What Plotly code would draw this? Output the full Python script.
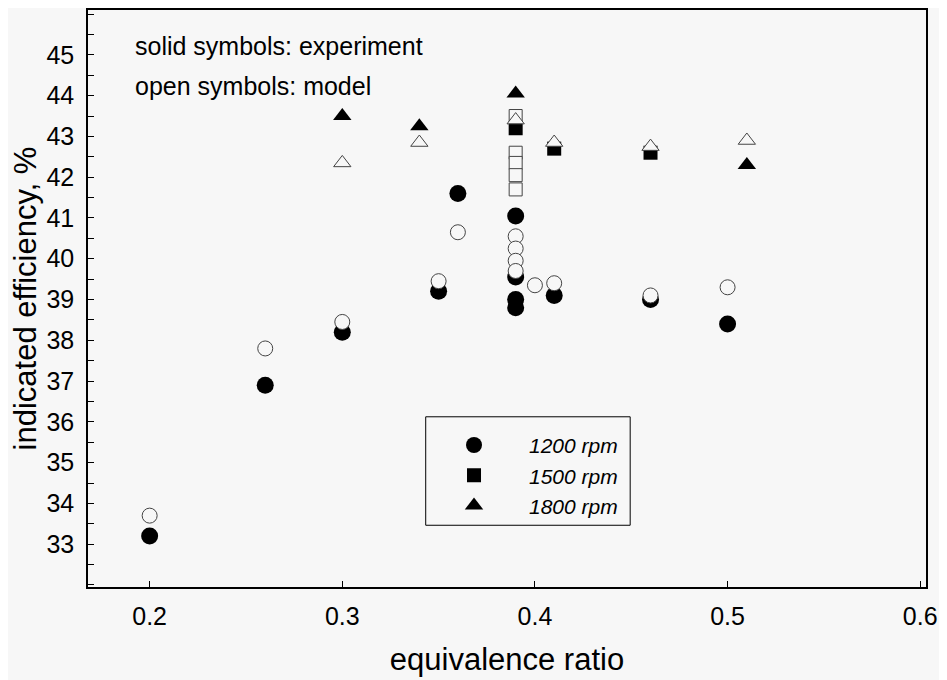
import plotly.graph_objects as go

# experiment (solid symbols)
exp_1200_x = [0.20, 0.26, 0.30, 0.35, 0.36, 0.39, 0.39, 0.39, 0.39, 0.41, 0.46, 0.50]
exp_1200_y = [33.2, 36.9, 38.2, 39.2, 41.6, 41.05, 39.55, 39.0, 38.8, 39.1, 39.0, 38.4]
exp_1500_x = [0.39, 0.41, 0.46]
exp_1500_y = [43.2, 42.7, 42.6]
exp_1800_x = [0.30, 0.34, 0.39, 0.51]
exp_1800_y = [43.5, 43.25, 44.05, 42.3]

# model (open symbols)
mod_1200_x = [0.20, 0.26, 0.30, 0.35, 0.36, 0.39, 0.39, 0.39, 0.39, 0.40, 0.41, 0.46, 0.50]
mod_1200_y = [33.7, 37.8, 38.45, 39.45, 40.65, 40.55, 40.25, 39.95, 39.7, 39.35, 39.4, 39.1, 39.3]
mod_1500_x = [0.39, 0.39, 0.39, 0.39, 0.39]
mod_1500_y = [43.5, 42.6, 42.35, 42.05, 41.7]
mod_1800_x = [0.30, 0.34, 0.39, 0.41, 0.46, 0.51]
mod_1800_y = [42.35, 42.85, 43.4, 42.85, 42.75, 42.9]

bg = "#f7f7f7"
font_main = "Arial, Liberation Sans, sans-serif"

fig = go.Figure()

# solid markers first, open (background filled) drawn on top like the original
fig.add_trace(go.Scatter(x=exp_1200_x, y=exp_1200_y, mode="markers", name="<i>1200 rpm</i>",
                         marker=dict(symbol="circle", size=17, color="black")))
fig.add_trace(go.Scatter(x=exp_1500_x, y=exp_1500_y, mode="markers", name="<i>1500 rpm</i>",
                         marker=dict(symbol="square", size=14, color="black")))
fig.add_trace(go.Scatter(x=exp_1800_x, y=exp_1800_y, mode="markers", name="<i>1800 rpm</i>",
                         marker=dict(symbol="triangle-up", size=16, color="black")))

open_line = dict(color="#444444", width=1)
fig.add_trace(go.Scatter(x=mod_1200_x, y=mod_1200_y, mode="markers", showlegend=False,
                         marker=dict(symbol="circle", size=15, color=bg, line=open_line)))
fig.add_trace(go.Scatter(x=mod_1500_x, y=mod_1500_y, mode="markers", showlegend=False,
                         marker=dict(symbol="square", size=13, color=bg, line=open_line)))
fig.add_trace(go.Scatter(x=mod_1800_x, y=mod_1800_y, mode="markers", showlegend=False,
                         marker=dict(symbol="triangle-up", size=15, color=bg, line=open_line)))

# legend box
fig.add_shape(type="rect", xref="paper", yref="paper", x0=0.403, x1=0.647, y0=0.107, y1=0.295,
              line=dict(color="black", width=1), fillcolor="rgba(0,0,0,0)")

fig.add_annotation(text="solid symbols: experiment", xref="paper", yref="paper", x=0.054, y=0.938,
                   xanchor="left", yanchor="middle", showarrow=False, font=dict(size=25, color="black"))
fig.add_annotation(text="open symbols: model", xref="paper", yref="paper", x=0.054, y=0.869,
                   xanchor="left", yanchor="middle", showarrow=False, font=dict(size=25, color="black"))

fig.update_layout(
    width=939, height=672,
    margin=dict(l=80, r=21, t=0, b=93),
    paper_bgcolor=bg, plot_bgcolor=bg,
    font=dict(family=font_main, color="black"),
    legend=dict(x=0.395, y=0.281, xanchor="left", yanchor="top", bgcolor="rgba(0,0,0,0)",
                font=dict(size=21), itemwidth=100, tracegroupgap=0),
)

fig.update_xaxes(
    range=[0.168, 0.603], tickvals=[0.2, 0.3, 0.4, 0.5, 0.6], ticktext=["0.2", "0.3", "0.4", "0.5", "0.6"],
    ticks="inside", ticklen=6, tickcolor="black", tickfont=dict(size=25), ticklabelstandoff=6,
    showline=True, linecolor="black", linewidth=1.5, mirror=True,
    showgrid=False, zeroline=False,
    title=dict(text="equivalence ratio", font=dict(size=31), standoff=20),
)
fig.update_yaxes(
    range=[31.95, 46.1], tickvals=list(range(33, 46)),
    ticks="inside", ticklen=6, tickcolor="black", tickfont=dict(size=25), ticklabelstandoff=7,
    minor=dict(dtick=0.5, ticks="inside", ticklen=6, tickcolor="black"),
    showline=True, linecolor="black", linewidth=1.5, mirror=True,
    showgrid=False, zeroline=False,
    title=dict(text="indicated efficiency, %", font=dict(size=31), standoff=8),
)

fig.write_html("out.html")
